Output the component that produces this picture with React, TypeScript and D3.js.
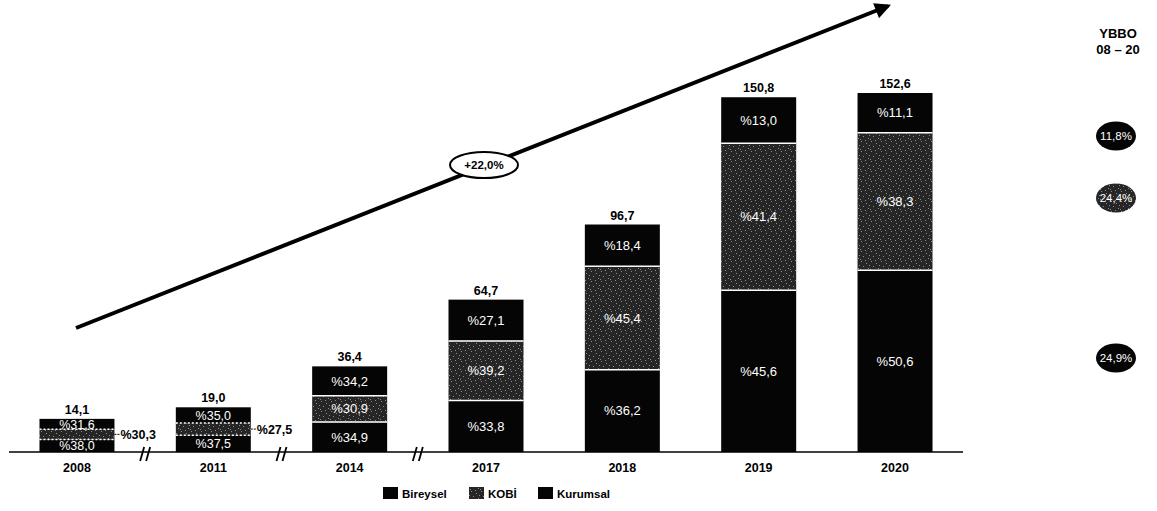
import React from "react";
import * as d3 from "d3";

const years = ["2008", "2011", "2014", "2017", "2018", "2019", "2020"];
const totals = [14.1, 19.0, 36.4, 64.7, 96.7, 150.8, 152.6];
const bireysel = [38.0, 37.5, 34.9, 33.8, 36.2, 45.6, 50.6];
const kobi = [30.3, 27.5, 30.9, 39.2, 45.4, 41.4, 38.3];
const kurumsal = [31.6, 35.0, 34.2, 27.1, 18.4, 13.0, 11.1];
const cagrLabels = ["11,8%", "24,4%", "24,9%"]; // Kurumsal, KOBİ, Bireysel
const growthLabel = "+22,0%";
const outsideLabelYears = ["2008", "2011"];

const W = 1157;
const H = 511;
const baseY = 452;
const font = "'Liberation Sans', Arial, sans-serif";

const fmt = (v: number) => v.toFixed(1).replace(".", ",");

export default function App() {
  const x = d3
    .scaleBand<string>()
    .domain(years)
    .range([8.8, 963.2])
    .paddingInner(0.45)
    .paddingOuter(0.225);
  const y = d3.scaleLinear().domain([0, 152.6]).range([baseY, 93]);

  const rows = years.map((yr, i) => ({
    year: yr,
    Bireysel: (totals[i] * bireysel[i]) / 100,
    KOBI: (totals[i] * kobi[i]) / 100,
    Kurumsal: (totals[i] * kurumsal[i]) / 100,
  }));
  const keys = ["Bireysel", "KOBI", "Kurumsal"];
  const pcts: Record<string, number[]> = { Bireysel: bireysel, KOBI: kobi, Kurumsal: kurumsal };
  const series = d3.stack<any>().keys(keys)(rows);
  const fills: Record<string, string> = {
    Bireysel: "#050505",
    KOBI: "url(#kobiTex)",
    Kurumsal: "#050505",
  };
  const bw = x.bandwidth();

  // break marks between the first few categories
  const breaks = [0, 1, 2].map(
    (i) => ((x(years[i]) as number) + (x(years[i + 1]) as number) + bw) / 2
  );

  // texture speckles (fixed pattern)
  const dots = [
    [1, 1], [6, 3], [3, 6], [8, 8], [0, 9], [5, 0], [9, 5],
  ];

  return (
    <svg
      width={W}
      height={H}
      style={{ position: "absolute", left: 0, top: 0, background: "#fff" }}
      fontFamily={font}
    >
      <defs>
        <pattern id="kobiTex" width="10" height="10" patternUnits="userSpaceOnUse">
          <rect width="10" height="10" fill="#262626" />
          {dots.map(([dx, dy], i) => (
            <rect key={i} x={dx} y={dy} width="1" height="1" fill="#8a8a8a" />
          ))}
        </pattern>
        <marker
          id="arrowHead"
          viewBox="0 0 10 10"
          refX="8"
          refY="5"
          markerWidth="4.5"
          markerHeight="4"
          orient="auto"
        >
          <path d="M0,0 L10,5 L0,10 Z" fill="#000" />
        </marker>
      </defs>

      {/* growth arrow */}
      <line
        x1={76}
        y1={328}
        x2={888}
        y2={6}
        stroke="#000"
        strokeWidth={4}
        markerEnd="url(#arrowHead)"
      />
      <ellipse cx={484} cy={165} rx={34} ry={13} fill="#fff" stroke="#000" strokeWidth={2} />
      <text x={484} y={169} textAnchor="middle" fontSize={11.5} fontWeight="bold">
        {growthLabel}
      </text>

      {/* bars */}
      {series.map((s) =>
        s.map((d, i) => {
          const yr = years[i];
          const x0 = x(yr) as number;
          const top = y(d[1]);
          const bot = y(d[0]);
          const outside = s.key === "KOBI" && outsideLabelYears.includes(yr);
          const small = outsideLabelYears.includes(yr);
          return (
            <g key={s.key + yr}>
              <rect x={x0} y={top} width={bw} height={bot - top} fill={fills[s.key]} />
              {d[0] > 0 && (
                <line
                  x1={x0}
                  x2={x0 + bw}
                  y1={bot}
                  y2={bot}
                  stroke="#fff"
                  strokeWidth={1.5}
                  strokeDasharray={small ? "2,2" : undefined}
                />
              )}
              {outside ? (
                <g>
                  <line
                    x1={x0 + bw}
                    x2={x0 + bw + 6}
                    y1={(top + bot) / 2}
                    y2={(top + bot) / 2}
                    stroke="#000"
                    strokeWidth={1}
                    strokeDasharray="2,1"
                  />
                  <text
                    x={x0 + bw + 6}
                    y={(top + bot) / 2 + 4.5}
                    fontSize={12.5}
                    fontWeight="bold"
                    fill="#000"
                  >
                    {"%" + fmt(pcts[s.key][i])}
                  </text>
                </g>
              ) : (
                <text
                  x={x0 + bw / 2}
                  y={(top + bot) / 2 + 4.5}
                  textAnchor="middle"
                  fontSize={small ? 12.5 : 13}
                  fill="#fff"
                >
                  {"%" + fmt(pcts[s.key][i])}
                </text>
              )}
            </g>
          );
        })
      )}

      {/* totals */}
      {years.map((yr, i) => (
        <text
          key={"t" + yr}
          x={(x(yr) as number) + bw / 2}
          y={y(totals[i]) - 5}
          textAnchor="middle"
          fontSize={12.5}
          fontWeight="bold"
        >
          {fmt(totals[i])}
        </text>
      ))}

      {/* baseline */}
      <line x1={9} x2={963} y1={baseY} y2={baseY} stroke="#000" strokeWidth={1.5} />
      {breaks.map((bx, i) => (
        <g key={"b" + i} stroke="#000" strokeWidth={1.8}>
          <line x1={bx - 5} y1={461} x2={bx - 1} y2={447} />
          <line x1={bx + 1} y1={461} x2={bx + 5} y2={447} />
        </g>
      ))}

      {/* year labels */}
      {years.map((yr) => (
        <text
          key={"y" + yr}
          x={(x(yr) as number) + bw / 2}
          y={472}
          textAnchor="middle"
          fontSize={12.5}
          fontWeight="bold"
        >
          {yr}
        </text>
      ))}

      {/* legend */}
      {[
        { label: "Bireysel", fill: "#050505", lx: 383 },
        { label: "KOBİ", fill: "url(#kobiTex)", lx: 469 },
        { label: "Kurumsal", fill: "#050505", lx: 538 },
      ].map((l) => (
        <g key={l.label}>
          <rect x={l.lx} y={487} width={15} height={12} fill={l.fill} />
          <text x={l.lx + 19} y={498} fontSize={11.5} fontWeight="bold">
            {l.label}
          </text>
        </g>
      ))}

      {/* CAGR column */}
      <text x={1118} y={38} textAnchor="middle" fontSize={13} fontWeight="bold">
        YBBO
      </text>
      <text x={1118} y={54} textAnchor="middle" fontSize={13} fontWeight="bold">
        08 – 20
      </text>
      {[
        { cy: 136, fill: "#050505" },
        { cy: 198, fill: "url(#kobiTex)" },
        { cy: 358, fill: "#050505" },
      ].map((c, i) => (
        <g key={"c" + i}>
          <ellipse cx={1116} cy={c.cy} rx={20} ry={14.5} fill={c.fill} />
          <text x={1116} y={c.cy + 4} textAnchor="middle" fontSize={11.5} fill="#fff">
            {cagrLabels[i]}
          </text>
        </g>
      ))}
    </svg>
  );
}
